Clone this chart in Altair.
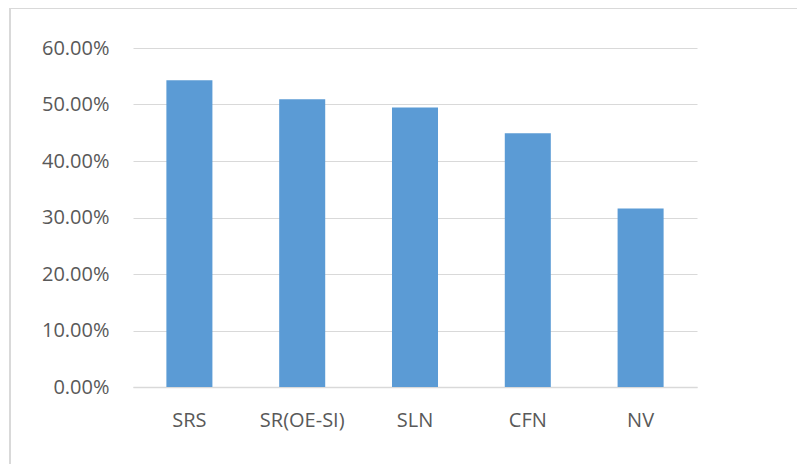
import altair as alt
import pandas as pd

categories = ["SRS", "SR(OE-SI)", "SLN", "CFN", "NV"]
values = [0.5428, 0.5093, 0.4946, 0.4493, 0.3159]

df = pd.DataFrame({"cat": categories, "val": values})

FONT = "Open Sans"
TXT = "#595959"
GRID = "#D9D9D9"

bars = alt.Chart(df).mark_bar(color="#5B9BD5").encode(
    x=alt.X("cat:N", sort=categories, title=None,
            scale=alt.Scale(paddingInner=0.592, paddingOuter=0.296),
            axis=alt.Axis(labelAngle=0, labelFont=FONT, labelFontSize=20,
                          labelColor=TXT, ticks=False, domainColor=GRID,
                          domainWidth=1.5, labelPadding=23, grid=False)),
    y=alt.Y("val:Q", title=None,
            scale=alt.Scale(domain=[0, 0.6], nice=False),
            axis=alt.Axis(format=".2%", values=[0, 0.1, 0.2, 0.3, 0.4, 0.5, 0.6],
                          labelFont=FONT, labelFontSize=20, labelColor=TXT,
                          ticks=False, domain=False, gridColor=GRID,
                          gridWidth=1.2, labelPadding=24)),
)

# chart frame (decorative border, top and left edges visible)
frame_top = alt.Chart(df).mark_rule(color=GRID, strokeWidth=1.5).encode(
    x=alt.value(-123), x2=alt.value(700), y=alt.value(-40))
frame_left = alt.Chart(df).mark_rule(color=GRID, strokeWidth=1.5).encode(
    x=alt.value(-123), y=alt.value(-40), y2=alt.value(480))

chart = alt.layer(frame_top, frame_left, bars).properties(
    width=564, height=339,
    padding={"left": 125, "top": 40, "right": 100, "bottom": 78},
    autosize=alt.AutoSizeParams(type="none"),
).configure_view(stroke=None)

chart.save("out.html", embed_options={"renderer": "svg", "actions": False})
